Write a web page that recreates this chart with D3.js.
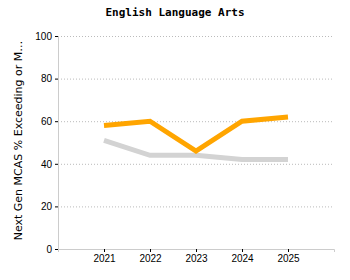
<!DOCTYPE html>
<html>
<head>
<meta charset="utf-8">
<script src="https://cdn.jsdelivr.net/npm/d3@7"></script>
<style>
    body { margin: 0; background: #fff; }
    svg { display: block; font-family: "DejaVu Sans", Verdana, sans-serif; }
    .axis text { font-size: 10px; fill: #000; }
    .axis .domain { stroke: #ccc; }
    .axis line { stroke: #000; }
    .grid line { stroke: #bbb; stroke-dasharray: 1,2; }
</style>
</head>
<body>
<script>
// data
var years = [2021, 2022, 2023, 2024, 2025];
var districtVals = [58, 60, 46, 60, 62];
var stateVals = [51, 44, 44, 42, 42];
var yTicks = [0, 20, 40, 60, 80, 100];

var width = 350, height = 280;
var margin = {top: 36, right: 16, bottom: 31, left: 58};

var svg = d3.select("body").append("svg")
    .attr("width", width)
    .attr("height", height);

var x = d3.scaleLinear()
    .domain([2020, 2026])
    .range([margin.left, width - margin.right]);

var y = d3.scaleLinear()
    .domain([0, 100])
    .range([height - margin.bottom, margin.top]);

// gridlines
svg.append("g")
    .classed("grid", true)
    .selectAll("line")
    .data(yTicks.slice(1))
    .enter()
    .append("line")
    .attr("x1", margin.left)
    .attr("x2", width - margin.right)
    .attr("y1", function (d) {
        return y(d) + 0.5
    })
    .attr("y2", function (d) {
        return y(d) + 0.5
    });

// axes
svg.append("g")
    .classed("axis", true)
    .attr("transform", "translate(0," + (height - margin.bottom) + ")")
    .call(d3.axisBottom(x).tickValues(years).tickFormat(d3.format("d")).tickSize(3).tickSizeOuter(3));

svg.append("g")
    .classed("axis", true)
    .attr("transform", "translate(" + margin.left + ",0)")
    .call(d3.axisLeft(y).tickValues(yTicks).tickSize(3).tickSizeOuter(0));

// lines
var line = d3.line()
    .x(function (d, i) {
        return x(years[i])
    })
    .y(function (d) {
        return y(d)
    });

svg.append("path")
    .datum(stateVals)
    .attr("d", line)
    .attr("fill", "none")
    .attr("stroke", "#d3d3d3")
    .attr("stroke-width", 5);

svg.append("path")
    .datum(districtVals)
    .attr("d", line)
    .attr("fill", "none")
    .attr("stroke", "#ffa500")
    .attr("stroke-width", 5);

// title
svg.append("text")
    .attr("x", 175)
    .attr("y", 16)
    .attr("text-anchor", "middle")
    .attr("font-family", "'DejaVu Sans Mono', monospace")
    .attr("font-size", "11px")
    .attr("font-weight", "bold")
    .text("English Language Arts");

// y label
svg.append("text")
    .attr("transform", "translate(22," + ((margin.top + height - margin.bottom) / 2 - 2) + ") rotate(-90)")
    .attr("text-anchor", "middle")
    .attr("font-size", "11px")
    .text("Next Gen MCAS % Exceeding or M…");
</script>
</body>
</html>
